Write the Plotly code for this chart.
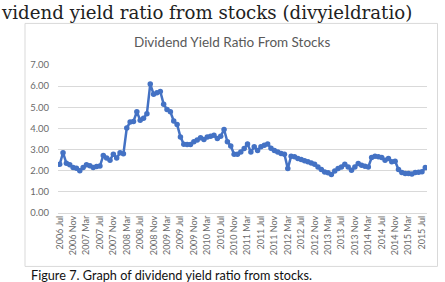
import plotly.graph_objects as go
import pandas as pd

# ---- data ----
start_month = "2006-07"
n_months = 110
values = [
    2.30, 2.85, 2.35, 2.28, 2.15, 2.12, 2.00, 2.15, 2.28, 2.24,
    2.15, 2.20, 2.22, 2.72, 2.60, 2.50, 2.78, 2.60, 2.85, 2.80,
    4.02, 4.30, 4.33, 4.79, 4.39, 4.48, 4.70, 6.10, 5.62, 5.69,
    5.75, 5.14, 4.90, 4.79, 4.35, 4.19, 3.60, 3.25, 3.24, 3.24,
    3.37, 3.45, 3.56, 3.48, 3.60, 3.63, 3.68, 3.52, 3.63, 3.95,
    3.37, 3.17, 2.78, 2.78, 2.89, 3.05, 3.26, 2.89, 3.13, 2.96,
    3.13, 3.20, 3.26, 3.06, 2.96, 2.89, 2.81, 2.78, 2.10, 2.69,
    2.66, 2.58, 2.53, 2.47, 2.42, 2.37, 2.30, 2.18, 2.06, 1.94,
    1.90, 1.82, 1.99, 2.10, 2.18, 2.30, 2.18, 2.02, 2.18, 2.34,
    2.26, 2.21, 2.18, 2.62, 2.69, 2.66, 2.63, 2.50, 2.58, 2.42,
    2.45, 2.06, 1.91, 1.87, 1.87, 1.84, 1.91, 1.93, 1.95, 2.15,
]
categories = [d.strftime("%Y %b") for d in pd.date_range(start_month, periods=n_months, freq="MS")]
tick_labels = [c for i, c in enumerate(categories) if i % 4 == 0]
y_ticks = [0, 1, 2, 3, 4, 5, 6, 7]
y_tick_text = ["0.00", "1.00", "2.00", "3.00", "4.00", "5.00", "6.00", "7.00"]

W, H = 445, 282
PL, PR, PT, PB = 58, 427, 65, 212.7

def px(x):
    return (x - PL) / (PR - PL)

def py(y):
    return (PB - y) / (PB - PT)

fig = go.Figure()
fig.add_trace(go.Scatter(
    x=list(range(n_months)), y=values, mode="lines+markers",
    line=dict(color="#4472C4", width=2.5),
    marker=dict(color="#4472C4", size=5.5),
    hoverinfo="skip", showlegend=False,
))

fig.update_layout(
    width=W, height=H,
    margin=dict(l=PL, r=W - PR, t=PT, b=H - PB),
    paper_bgcolor="white", plot_bgcolor="white",
    font=dict(family="Lato, Open Sans, sans-serif", color="#595959"),
    xaxis=dict(
        range=[-0.5, n_months - 0.5],
        tickvals=[i for i in range(n_months) if i % 4 == 0],
        ticktext=tick_labels,
        tickangle=-90,
        tickfont=dict(size=9, color="#6a6a6a"),
        showgrid=False, zeroline=False,
        showline=False, ticks="",
    ),
    yaxis=dict(
        range=[0, 7],
        tickvals=y_ticks, ticktext=y_tick_text,
        tickfont=dict(size=9.5, color="#6a6a6a"),
        showgrid=True, gridcolor="#d9d9d9", gridwidth=1,
        zeroline=True, zerolinecolor="#d9d9d9", zerolinewidth=1,
        showline=False, ticks="",
        ticklabelstandoff=8,
    ),
    shapes=[
        dict(type="rect", xref="paper", yref="paper",
             x0=px(25), x1=px(437.5), y0=py(266), y1=py(23.5),
             line=dict(color="#d9d9d9", width=1), fillcolor="rgba(0,0,0,0)", layer="below"),
    ],
    annotations=[
        dict(text="vidend yield ratio from stocks (divyieldratio)",
             xref="paper", yref="paper", x=px(-1), y=py(25),
             xanchor="left", yanchor="bottom", showarrow=False,
             font=dict(family="DejaVu Serif", size=18.2, color="#222222")),
        dict(text="Dividend Yield Ratio From Stocks",
             xref="paper", yref="paper", x=px(232), y=py(42),
             xanchor="center", yanchor="middle", showarrow=False,
             font=dict(family="Lato", size=13.5, color="#595959")),
        dict(text="Figure 7. Graph of dividend yield ratio from stocks.",
             xref="paper", yref="paper", x=px(29), y=py(275),
             xanchor="left", yanchor="middle", showarrow=False,
             font=dict(family="Lato", size=12.7, color="#111111")),
    ],
)

fig.write_html("out.html")
